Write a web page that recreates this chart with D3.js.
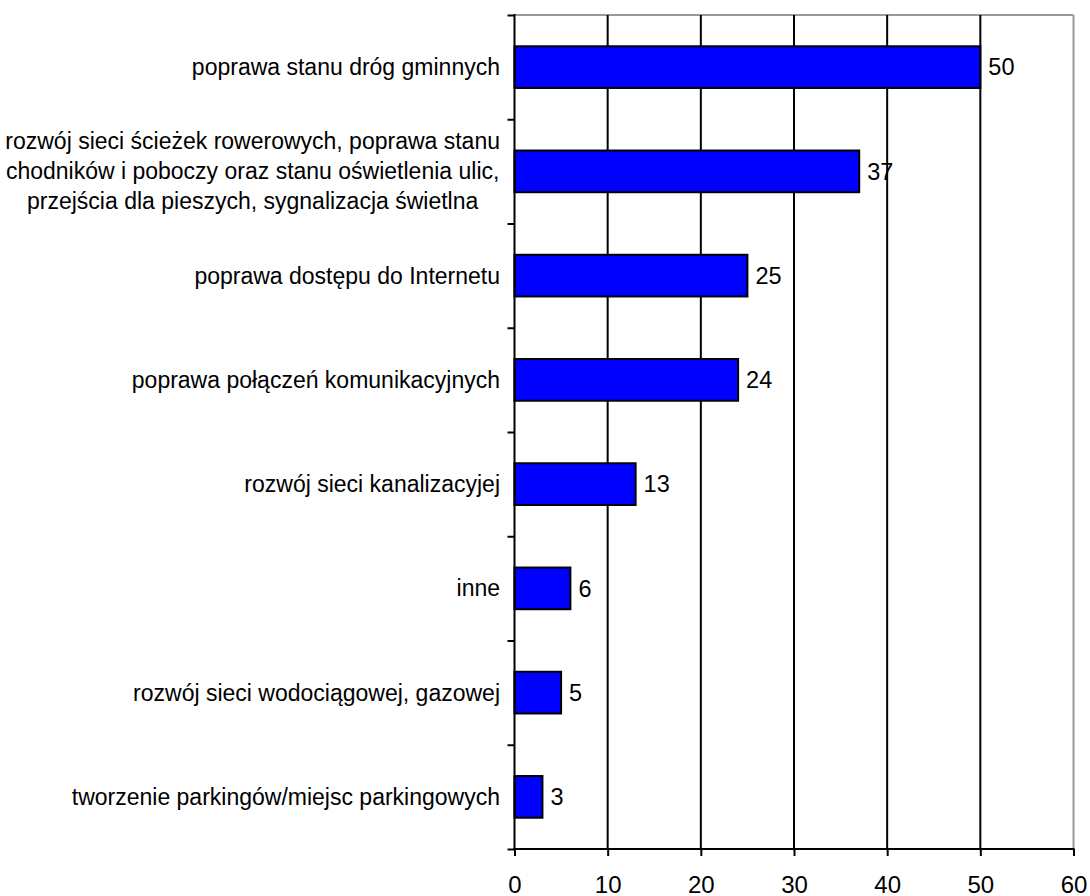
<!DOCTYPE html>
<html><head><meta charset="utf-8">
<script src="https://cdn.jsdelivr.net/npm/d3@7"></script>
<style>body{margin:0;background:#fff}svg{display:block}text{font-family:"Liberation Sans",Arial,sans-serif;fill:#000}</style>
</head><body>
<svg id="c" width="1090" height="896"></svg>
<script>
const categories = [
  ["poprawa stanu dróg gminnych"],
  ["rozwój sieci ścieżek rowerowych, poprawa stanu","chodników i poboczy oraz stanu oświetlenia ulic,","przejścia dla pieszych, sygnalizacja świetlna"],
  ["poprawa dostępu do Internetu"],
  ["poprawa połączeń komunikacyjnych"],
  ["rozwój sieci kanalizacyjej"],
  ["inne"],
  ["rozwój sieci wodociągowej, gazowej"],
  ["tworzenie parkingów/miejsc parkingowych"]
];
const values = [50, 37, 25, 24, 13, 6, 5, 3];
const xTicks = [0, 10, 20, 30, 40, 50, 60];

const svg = d3.select("#c");
const L = 514.5, R = 1073.5, T = 15, B = 849;
const x = d3.scaleLinear().domain([0, 60]).range([L, R]);
const y = d3.scaleBand().domain(d3.range(categories.length)).range([T, B]).paddingInner(0.6).paddingOuter(0.3);
const yb = d3.scaleLinear().domain([0, categories.length]).range([T, B]);

// frame (gray top/right)
svg.append("line").attr("x1", L).attr("x2", R).attr("y1", T).attr("y2", T).attr("stroke", "#999").attr("stroke-width", 2);
svg.append("line").attr("x1", R).attr("x2", R).attr("y1", T).attr("y2", B).attr("stroke", "#999").attr("stroke-width", 2);

// gridlines
svg.append("g").selectAll("line").data(xTicks.filter(d => d > 0 && d < 60)).join("line")
  .attr("x1", d => x(d)).attr("x2", d => x(d)).attr("y1", T).attr("y2", B)
  .attr("stroke", "#000").attr("stroke-width", 2);

// bars
svg.append("g").selectAll("rect").data(values).join("rect")
  .attr("x", x(0)).attr("y", (d, i) => y(i)).attr("width", d => x(d) - x(0)).attr("height", y.bandwidth())
  .attr("fill", "#0000ff").attr("stroke", "#000").attr("stroke-width", 2);

// value labels
svg.append("g").selectAll("text").data(values).join("text")
  .attr("x", d => x(d) + 8).attr("y", (d, i) => y(i) + y.bandwidth() / 2).attr("dy", "0.35em")
  .attr("font-size", 23.5).text(d => d);

// x axis
const xa = svg.append("g").attr("transform", `translate(0,${B})`)
  .call(d3.axisBottom(x).tickValues(xTicks).tickSize(7).tickPadding(20));
xa.select(".domain").remove();
xa.selectAll(".tick line").attr("stroke", "#000").attr("stroke-width", 2);
xa.selectAll(".tick text").attr("font-size", 24).attr("font-family", "Liberation Sans, Arial, sans-serif").attr("fill", "#000");
svg.append("line").attr("x1", L - 1).attr("x2", R + 1).attr("y1", B).attr("y2", B).attr("stroke", "#000").attr("stroke-width", 2);

// y axis with ticks at band boundaries
const ya = svg.append("g").attr("transform", `translate(${L},0)`)
  .call(d3.axisLeft(yb).tickValues(d3.range(categories.length + 1)).tickSize(7).tickFormat(""));
ya.select(".domain").attr("stroke", "#000").attr("stroke-width", 2).attr("d", `M0,${T - 1}V${B + 1}`);
ya.selectAll(".tick line").attr("stroke", "#000").attr("stroke-width", 2);

// category labels
const lab = svg.append("g");
categories.forEach((lines, i) => {
  const cy = y(i) + y.bandwidth() / 2;
  const lh = 30;
  const g = lab.append("g");
  const ts = lines.map((s, k) => g.append("text").attr("font-size", 23)
    .attr("y", cy + (k - (lines.length - 1) / 2) * lh).attr("dy", "0.35em").text(s));
  const maxW = d3.max(ts, t => t.node().getComputedTextLength());
  const cx = 500 - maxW / 2;
  ts.forEach(t => t.attr("x", cx).attr("text-anchor", "middle"));
});
</script>
</body></html>
